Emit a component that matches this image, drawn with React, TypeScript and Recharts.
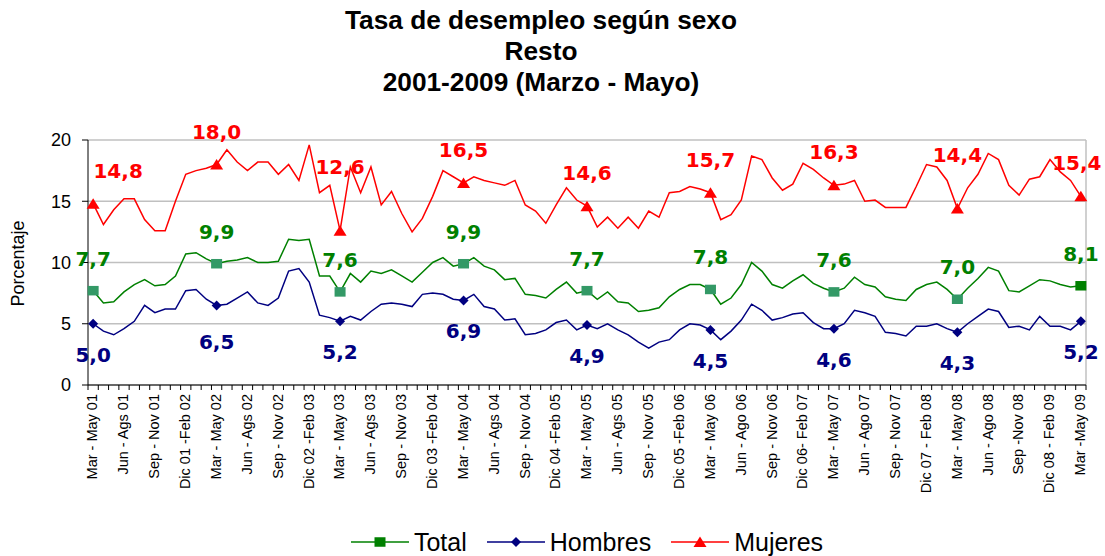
import React from 'react'
import { LineChart, Line, XAxis, YAxis, CartesianGrid, LabelList } from 'recharts'

// Rolling quarters Mar-May 2001 ... Mar-May 2009 (97 periods), label every 3rd one
const tickLabels = [
	'Mar - May 01', 'Jun - Ags 01', 'Sep - Nov 01', 'Dic 01 -Feb 02',
	'Mar - May 02', 'Jun - Ags 02', 'Sep - Nov 02', 'Dic 02 -Feb 03',
	'Mar - May 03', 'Jun - Ags 03', 'Sep - Nov 03', 'Dic 03 -Feb 04',
	'Mar - May 04', 'Jun - Ags 04', 'Sep - Nov 04', 'Dic 04 -Feb 05',
	'Mar - May 05', 'Jun - Ags 05', 'Sep - Nov 05', 'Dic 05 -Feb 06',
	'Mar - May 06', 'Jun - Ago 06', 'Sep - Nov 06', 'Dic 06- Feb 07',
	'Mar - May 07', 'Jun - Ago 07', 'Sep - Nov 07', 'Dic 07 - Feb 08',
	'Mar - May 08', 'Jun - Ago 08', 'Sep -Nov 08', 'Dic 08 - Feb 09',
	'Mar -May 09'
]

const total = [
	7.7, 6.7, 6.8, 7.6, 8.2, 8.6, 8.1, 8.2, 8.9, 10.7, 10.8, 10.3,
	9.9, 10.1, 10.2, 10.4, 10.0, 10.0, 10.1, 11.9, 11.8, 11.9, 8.9, 8.9,
	7.6, 9.1, 8.4, 9.3, 9.1, 9.4, 8.9, 8.4, 9.2, 10.0, 10.4, 9.7,
	9.9, 10.4, 9.7, 9.4, 8.6, 8.7, 7.4, 7.3, 7.1, 7.8, 8.4, 7.5,
	7.7, 7.0, 7.6, 6.8, 6.7, 6.0, 6.1, 6.3, 7.2, 7.8, 8.2, 8.2,
	7.8, 6.6, 7.1, 8.2, 10.0, 9.3, 8.2, 7.9, 8.5, 9.0, 8.3, 7.9,
	7.6, 7.9, 8.8, 8.2, 8.0, 7.2, 7.0, 6.9, 7.8, 8.2, 8.4, 7.8,
	7.0, 7.9, 8.7, 9.6, 9.3, 7.7, 7.6, 8.1, 8.6, 8.5, 8.2, 8.0,
	8.1
]

const hombres = [
	5.0, 4.4, 4.1, 4.6, 5.2, 6.5, 5.9, 6.2, 6.2, 7.7, 7.8, 7.0,
	6.5, 6.6, 7.1, 7.6, 6.7, 6.5, 7.1, 9.3, 9.5, 8.4, 5.7, 5.5,
	5.2, 5.6, 5.3, 6.0, 6.6, 6.7, 6.6, 6.4, 7.4, 7.5, 7.4, 7.0,
	6.9, 7.4, 6.4, 6.2, 5.3, 5.4, 4.1, 4.2, 4.5, 5.1, 5.3, 4.5,
	4.9, 4.6, 5.0, 4.5, 4.1, 3.5, 3.0, 3.5, 3.7, 4.5, 5.0, 4.9,
	4.5, 3.7, 4.4, 5.3, 6.6, 6.1, 5.3, 5.5, 5.8, 5.9, 5.1, 4.6,
	4.6, 5.0, 6.1, 5.9, 5.6, 4.3, 4.2, 4.0, 4.8, 4.8, 5.0, 4.6,
	4.3, 5.0, 5.6, 6.2, 6.0, 4.7, 4.8, 4.5, 5.6, 4.8, 4.8, 4.5,
	5.2
]

const mujeres = [
	14.8, 13.1, 14.3, 15.2, 15.2, 13.5, 12.6, 12.6, 15.0, 17.2, 17.5, 17.7,
	18.0, 19.2, 18.2, 17.5, 18.2, 18.2, 17.2, 18.0, 16.7, 19.6, 15.7, 16.3,
	12.6, 17.8, 15.7, 17.8, 14.7, 15.8, 14.0, 12.5, 13.6, 15.4, 17.5, 17.0,
	16.5, 17.0, 16.7, 16.5, 16.3, 16.7, 14.7, 14.2, 13.2, 14.7, 16.1, 15.1,
	14.6, 12.9, 13.7, 12.8, 13.7, 12.8, 14.2, 13.7, 15.7, 15.8, 16.2, 16.0,
	15.7, 13.5, 13.9, 15.1, 18.7, 18.4, 16.9, 15.9, 16.4, 18.1, 17.6, 16.9,
	16.3, 16.4, 16.7, 15.0, 15.1, 14.5, 14.5, 14.5, 16.2, 18.0, 17.8, 16.7,
	14.4, 16.1, 17.2, 18.9, 18.4, 16.3, 15.5, 16.8, 17.0, 18.4, 17.4, 16.7,
	15.4
]

const yTicks = [0, 5, 10, 15, 20]

const W = 1105
const H = 556
const margin = { top: 140, right: 19, bottom: 46, left: 0 }
const yAxisWidth = 88
const plotW = W - margin.left - margin.right - yAxisWidth
const step = plotW / total.length
const lastIdx = total.length - 1
const MARK_EVERY = 12 // one marker + label per Mar-May period

const arial = '"Liberation Sans", Arial, sans-serif'
const labelFont = '"DejaVu Sans", Verdana, sans-serif'

type Series = {
	key: 'total' | 'hombres' | 'mujeres'
	name: string
	color: string
	marker: 'square' | 'diamond' | 'triangle'
	markerFill: string
	labelDy: number
}

const series: Series[] = [
	{ key: 'total', name: 'Total', color: '#008000', marker: 'square', markerFill: '#339966', labelDy: -32 },
	{ key: 'hombres', name: 'Hombres', color: '#000080', marker: 'diamond', markerFill: '#000080', labelDy: 31 },
	{ key: 'mujeres', name: 'Mujeres', color: '#ff0000', marker: 'triangle', markerFill: '#ff0000', labelDy: -33 }
]

// hand-placed labels in the original workbook
const labelNudge: Record<string, Record<number, [number, number]>> = {
	mujeres: { 0: [25, 0], 24: [0, -31], 84: [0, -21], 96: [-4, 0] },
	hombres: { 12: [0, 6] }
}

const data = total.map((t, i) => ({ idx: i, total: t, hombres: hombres[i], mujeres: mujeres[i] }))

function Marker({ cx, cy, shape, fill }: { cx: number; cy: number; shape: string; fill: string }) {
	if (shape === 'square') return <rect x={cx - 5.5} y={cy - 4.75} width={11} height={9.5} fill={fill} />
	if (shape === 'diamond')
		return <polygon points={`${cx},${cy - 5} ${cx + 5},${cy} ${cx},${cy + 5} ${cx - 5},${cy}`} fill={fill} />
	return <polygon points={`${cx},${cy - 5.5} ${cx + 6.5},${cy + 5} ${cx - 6.5},${cy + 5}`} fill={fill} />
}

function PeriodTick({ x, y, payload }: any) {
	const i = Number(payload.value)
	const axisY = y - 5
	return (
		<g>
			<line x1={x - step / 2} x2={x - step / 2} y1={axisY} y2={axisY + 5} stroke="#000" />
			{i === lastIdx && <line x1={x + step / 2} x2={x + step / 2} y1={axisY} y2={axisY + 5} stroke="#000" />}
			{i % 3 === 0 && (
				<text
					x={x}
					y={axisY + 9}
					dy="0.3em"
					textAnchor="end"
					transform={`rotate(-90 ${x} ${axisY + 9})`}
					fontSize={14.5}
					fontFamily={arial}
					fill="#000"
				>
					{tickLabels[i / 3]}
				</text>
			)}
		</g>
	)
}

function renderLabel(p: any, s: Series) {
	const i = p.index
	if (i % MARK_EVERY !== 0) return null
	const [nx, ny] = labelNudge[s.key]?.[i] ?? [0, 0]
	return (
		<text
			key={`${s.key}-${i}`}
			x={p.x + nx}
			y={p.y + s.labelDy + ny}
			textAnchor="middle"
			dominantBaseline="central"
			fontSize={20}
			fontWeight="bold"
			fontFamily={labelFont}
			fill={s.color}
		>
			{Number(p.value).toFixed(1).replace('.', ',')}
		</text>
	)
}

function LegendIcon({ s }: { s: Series }) {
	return (
		<svg width={58} height={14} style={{ display: 'block' }}>
			<line x1={0} x2={58} y1={7} y2={7} stroke={s.color} strokeWidth={1.5} />
			<Marker cx={29} cy={7} shape={s.marker} fill={s.color} />
		</svg>
	)
}

export default function App() {
	return (
		<div style={{ position: 'absolute', left: 0, top: 0, width: W, height: H, background: '#fff' }}>
			<div
				style={{
					position: 'absolute',
					left: 0,
					top: 5,
					width: 1082,
					textAlign: 'center',
					fontFamily: arial,
					fontWeight: 'bold',
					fontSize: 25,
					lineHeight: '31px',
					color: '#000',
					transform: 'scaleX(1.05)'
				}}
			>
				<div>Tasa de desempleo según sexo</div>
				<div>Resto</div>
				<div>2001-2009 (Marzo - Mayo)</div>
			</div>

			<LineChart width={W} height={H} data={data} margin={margin}>
				<CartesianGrid
					stroke="#c0c0c0"
					strokeWidth={1.5}
					verticalCoordinatesGenerator={({ offset }: any) => [offset.left + offset.width]}
				/>
				<XAxis
					dataKey="idx"
					type="category"
					interval={0}
					height={125}
					tickLine={false}
					tickSize={5}
					tickMargin={0}
					tick={PeriodTick}
					axisLine={{ stroke: '#000' }}
					padding={{ left: step / 2, right: step / 2 }}
				/>
				<YAxis
					domain={[0, 20]}
					ticks={yTicks}
					width={yAxisWidth}
					tickSize={6}
					tickMargin={11}
					axisLine={{ stroke: '#000' }}
					tickLine={{ stroke: '#000' }}
					tick={{ fill: '#000', fontSize: 18, fontFamily: arial }}
					label={(props: any) => {
						const vb = props.viewBox
						const cx = vb.x + 18
						const cy = vb.y + vb.height / 2 + 1
						return (
							<text
								x={cx}
								y={cy}
								dy="0.35em"
								textAnchor="middle"
								transform={`rotate(-90 ${cx} ${cy})`}
								fontSize={18}
								fontFamily={arial}
								fill="#000"
							>
								Porcentaje
							</text>
						)
					}}
				/>
				{series.map((s) => (
					<Line
						key={s.key}
						type="linear"
						dataKey={s.key}
						name={s.name}
						stroke={s.color}
						strokeWidth={1.5}
						isAnimationActive={false}
						activeDot={false}
						dot={(p: any) =>
							p.index % MARK_EVERY === 0 ? (
								<Marker
									key={`${s.key}-dot-${p.index}`}
									cx={p.cx}
									cy={p.cy}
									shape={s.marker}
									fill={p.index === lastIdx ? s.color : s.markerFill}
								/>
							) : (
								<g key={`${s.key}-dot-${p.index}`} />
							)
						}
					>
						<LabelList dataKey={s.key} content={(p: any) => renderLabel(p, s)} />
					</Line>
				))}
			</LineChart>

			<div
				style={{
					position: 'absolute',
					left: margin.left + yAxisWidth,
					width: plotW,
					top: 527,
					height: 30,
					display: 'flex',
					justifyContent: 'center',
					alignItems: 'center',
					gap: 20,
					fontFamily: arial,
					fontSize: 25,
					color: '#000'
				}}
			>
				{series.map((s) => (
					<div key={s.key} style={{ display: 'flex', alignItems: 'center', gap: 5 }}>
						<LegendIcon s={s} />
						<span>{s.name}</span>
					</div>
				))}
			</div>
		</div>
	)
}
